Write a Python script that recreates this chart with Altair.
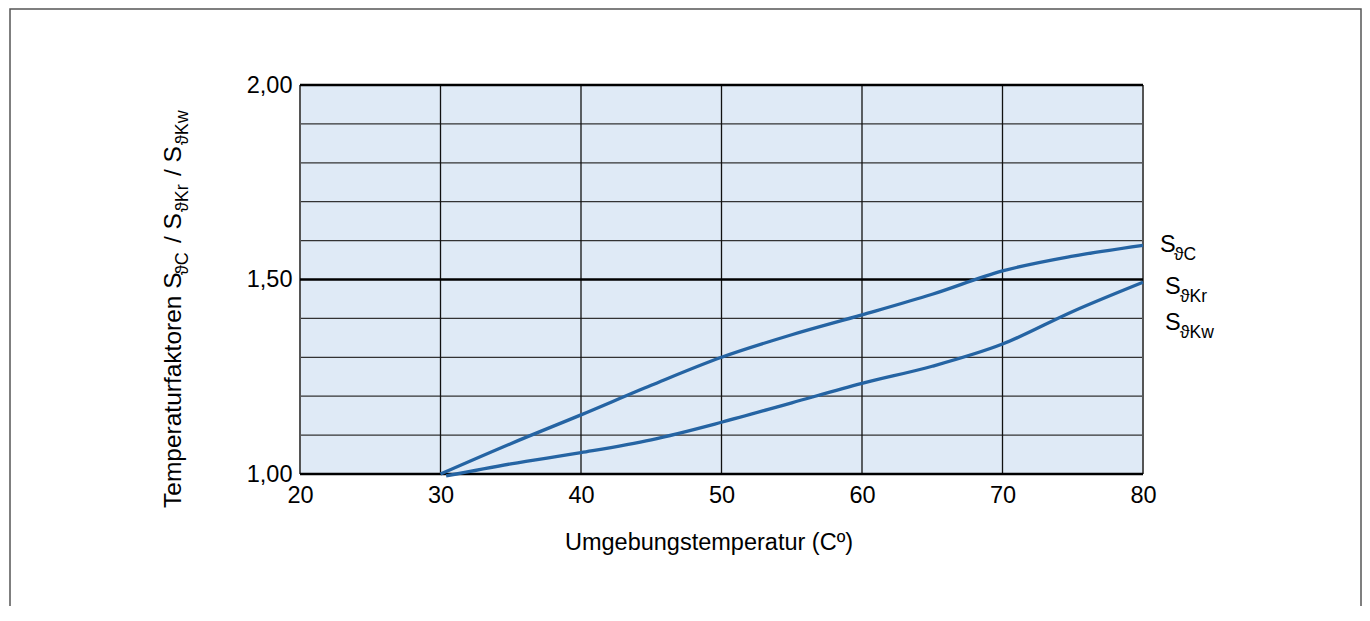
import altair as alt
import pandas as pd

# ---- data ----
temps_c = [30, 35, 40, 45, 50, 55, 60, 65, 70, 75, 80]
s_c = [1.000, 1.078, 1.152, 1.228, 1.300, 1.358, 1.409, 1.462, 1.522, 1.560, 1.588]

temps_k = [30.4, 35, 40, 45, 50, 55, 60, 65, 70, 75, 80]
s_k = [0.995, 1.026, 1.055, 1.088, 1.133, 1.183, 1.233, 1.277, 1.334, 1.418, 1.493]

x_ticks = [20, 30, 40, 50, 60, 70, 80]
x_inner = [30, 40, 50, 60, 70]
x_edges = [20, 80]
y_labels = [1.0, 1.5, 2.0]
y_major = [1.0, 1.5, 2.0]
y_minor = [1.1, 1.2, 1.3, 1.4, 1.6, 1.7, 1.8, 1.9]

FONT = "Liberation Sans"
FS = 23.5
FS_SUB = 17.5
FS_YT = 24.5
FS_YT_SUB = 18
LINE_COLOR = "#2564a3"

X0, Y0 = 300, 85  # plot origin on the page


def px(x):
    return x - X0


def py(y):
    return y - Y0


xs = alt.Scale(domain=[20, 80], nice=False, zero=False)
ys = alt.Scale(domain=[1, 2], nice=False, zero=False)

xaxis = alt.Axis(values=x_ticks, grid=False, domain=False, ticks=False,
                 labelPadding=9, labelFontSize=FS, labelFont=FONT,
                 labelColor="#000", title=None, labelFlush=False,
                 labelOverlap=False, format="d")
yaxis = alt.Axis(values=y_labels,
                 labelExpr="replace(format(datum.value, '.2f'), '.', ',')",
                 grid=False, domain=False, ticks=False, labelPadding=8,
                 labelFontSize=FS, labelFont=FONT, labelColor="#000",
                 title=None, labelOverlap=False, labelFlush=False)

dummy = pd.DataFrame({"a": [0]})

frame = alt.Chart(dummy).mark_rect(fillOpacity=0, stroke="#555555",
                                   strokeWidth=1.5, clip=False).encode(
    x=alt.value(px(10)), x2=alt.value(px(1361)),
    y=alt.value(py(9)), y2=alt.value(py(640)))

minor = alt.Chart(pd.DataFrame({"v": y_minor})).mark_rule(
    color="#333333", strokeWidth=1.3).encode(
    y=alt.Y("v:Q", scale=ys, axis=yaxis))
major = alt.Chart(pd.DataFrame({"v": y_major})).mark_rule(
    color="#000000", strokeWidth=2.6).encode(
    y=alt.Y("v:Q", scale=ys, axis=yaxis))
vin = alt.Chart(pd.DataFrame({"t": x_inner})).mark_rule(
    color="#111111", strokeWidth=1.3).encode(
    x=alt.X("t:Q", scale=xs, axis=xaxis))
vedge = alt.Chart(pd.DataFrame({"t": x_edges})).mark_rule(
    color="#555555", strokeWidth=2).encode(
    x=alt.X("t:Q", scale=xs, axis=xaxis))

curves = pd.concat([
    pd.DataFrame({"T": temps_c, "S": s_c, "series": "SC"}),
    pd.DataFrame({"T": temps_k, "S": s_k, "series": "SK"}),
])
lines = alt.Chart(curves).mark_line(
    color=LINE_COLOR, strokeWidth=3.3, interpolate="monotone", clip=False).encode(
    x=alt.X("T:Q", scale=xs, axis=xaxis),
    y=alt.Y("S:Q", scale=ys, axis=yaxis),
    detail="series:N")


def txt(s, x, y, size=FS, angle=0, align="left"):
    kw = dict(text=s, font=FONT, fontSize=size, color="#000",
              align=align, baseline="alphabetic")
    if angle:
        kw["angle"] = angle
    return alt.Chart(dummy).mark_text(**kw).encode(
        x=alt.value(x), y=alt.value(y))


texts = [
    # right-hand labels
    txt("S", px(1160), py(252)), txt("\u03d1C", px(1174), py(260), FS_SUB),
    txt("S", px(1165), py(294)), txt("\u03d1Kr", px(1180), py(302), FS_SUB),
    txt("S", px(1165), py(330)), txt("\u03d1Kw", px(1180), py(338), FS_SUB),
    # x title
    txt("Umgebungstemperatur (C\u00ba)", px(709), py(550), align="center"),
    # rotated y title
    txt("Temperaturfaktoren S", px(181), py(508), FS_YT, angle=270),
    txt("\u03d1C", px(188), py(275), FS_YT_SUB, angle=270),
    txt("/ S", px(181), py(243), FS_YT, angle=270),
    txt("\u03d1Kr", px(188), py(212), FS_YT_SUB, angle=270),
    txt("/ S", px(181), py(176), FS_YT, angle=270),
    txt("\u03d1Kw", px(188), py(145), FS_YT_SUB, angle=270),
]

chart = alt.layer(frame, minor, vin, vedge, major, lines, *texts).properties(
    width=843, height=389,
    autosize=alt.AutoSizeParams(type="none"),
    padding={"left": 292, "top": 77, "right": 219, "bottom": 132},
).configure_view(fill="#dfeaf6", strokeWidth=0)

chart.save("out.html", embed_options={"renderer": "svg", "actions": False})
